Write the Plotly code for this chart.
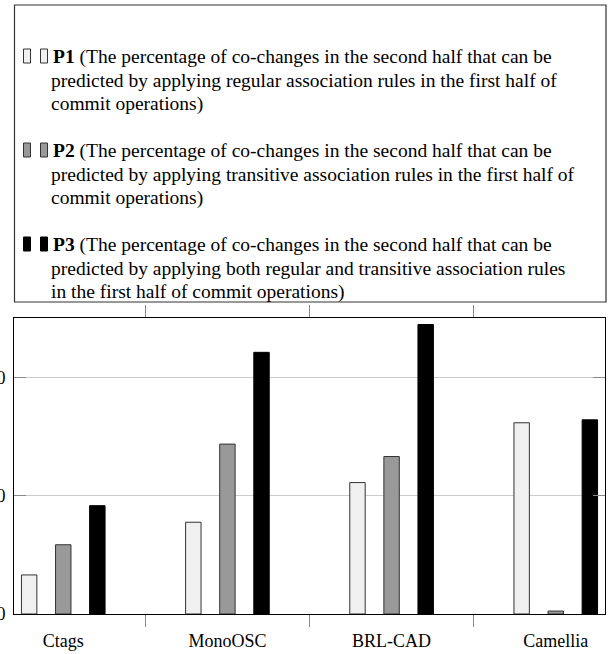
import plotly.graph_objects as go

# Projects and the three prediction percentages per project
projects = ["Ctags", "MonoOSC", "BRL-CAD", "Camellia"]
p1_values = [6.6, 15.5, 22.2, 32.3]
p2_values = [11.7, 28.7, 26.6, 0.5]
p3_values = [18.3, 44.2, 48.9, 32.8]
y_ticks = [0, 20, 40]

legend_lines = {
    "P1": ["<b>P1</b> (The percentage of co-changes in the second half that can be",
           "predicted by applying regular association rules in the first half of",
           "commit operations)"],
    "P2": ["<b>P2</b> (The percentage of co-changes in the second half that can be",
           "predicted by applying transitive association rules in the first half of",
           "commit operations)"],
    "P3": ["<b>P3</b> (The percentage of co-changes in the second half that can be",
           "predicted by applying both regular and transitive association rules",
           "in the first half of commit operations)"],
}

W, H = 613, 654
ML, MR, MT, MB = 14, 8, 318, 40
PW, PH = W - ML - MR, H - MT - MB
FONT = "Liberation Serif"

styles = {
    "P1": dict(fill="#f0f0f0", line="#333333"),
    "P2": dict(fill="#999999", line="#333333"),
    "P3": dict(fill="#000000", line="#000000"),
}

bar_w = 0.094
step = 0.2077

fig = go.Figure()
for i, (name, vals) in enumerate([("P1", p1_values), ("P2", p2_values), ("P3", p3_values)]):
    st = styles[name]
    fig.add_trace(go.Bar(
        x=projects, y=vals, name=name,
        width=bar_w, offset=(i - 1) * step - bar_w / 2,
        marker=dict(color=st["fill"], line=dict(color=st["line"], width=1)),
        showlegend=False,
    ))


def px_x(px):
    return (px - ML) / PW


def px_y(py):
    return (H - MB - py) / PH


shapes = []
annotations = []

# legend frame above the plot
shapes.append(dict(type="rect", xref="paper", yref="paper",
                   x0=px_x(14.5), x1=px_x(606), y0=px_y(302), y1=px_y(5),
                   line=dict(color="#333333", width=1.2), fillcolor="rgba(0,0,0,0)"))

block_top = [57, 151, 245]
line_gap = 23.4
for (name, lines), top in zip(legend_lines.items(), block_top):
    st = styles[name]
    for sx in (23.5, 40.5):
        shapes.append(dict(type="rect", xref="paper", yref="paper",
                           x0=px_x(sx), x1=px_x(sx + 7), y0=px_y(top + 6), y1=px_y(top - 8),
                           line=dict(color=st["line"], width=1), fillcolor=st["fill"]))
    for k, text in enumerate(lines):
        annotations.append(dict(
            xref="paper", yref="paper", x=px_x(51 if k == 0 else 49), y=px_y(top + k * line_gap),
            xanchor="left", yanchor="middle", text=text, showarrow=False,
            font=dict(family=FONT, size=19.5, color="black"), align="left"))

fig.update_layout(
    width=W, height=H,
    margin=dict(l=ML, r=MR, t=MT, b=MB, pad=0),
    paper_bgcolor="white", plot_bgcolor="white",
    barmode="overlay",
    font=dict(family=FONT, size=18, color="black"),
    shapes=shapes, annotations=annotations,
    xaxis=dict(
        type="category", categoryorder="array", categoryarray=projects,
        range=[-0.3, 3.3], tickson="boundaries", automargin=False,
        ticks="outside", ticklen=12, tickcolor="#888888", tickwidth=1,
        ticklabelstandoff=10,
        showline=True, linecolor="black", linewidth=1, mirror="ticks",
        showgrid=False, tickfont=dict(family=FONT, size=18, color="black"),
    ),
    yaxis=dict(
        range=[0, 50], tickmode="array", tickvals=y_ticks, automargin=False,
        ticks="inside", ticklen=12, tickcolor="#888888", tickwidth=1,
        showline=True, linecolor="black", linewidth=1, mirror="ticks",
        showgrid=True, gridcolor="#cccccc", gridwidth=1, zeroline=False,
        ticklabelstandoff=4,
        tickfont=dict(family=FONT, size=18, color="black"),
    ),
)

fig.write_html("out.html")
